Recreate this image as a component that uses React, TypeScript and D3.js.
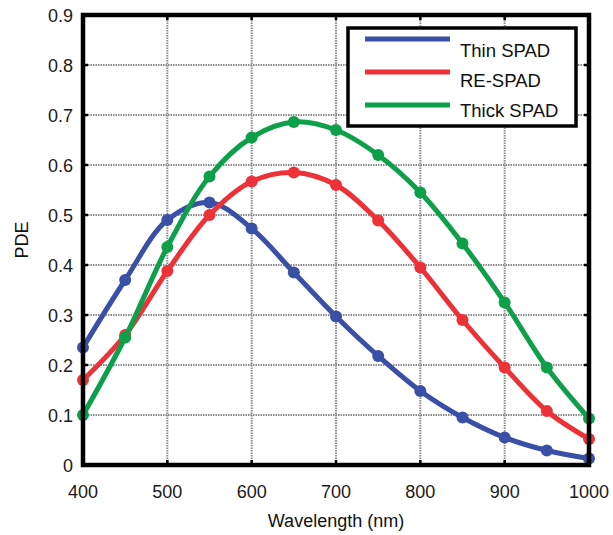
import React from "react";
import * as d3 from "d3";

const wavelengths = [400, 450, 500, 550, 600, 650, 700, 750, 800, 850, 900, 950, 1000];
const thinSpad = [0.235, 0.37, 0.49, 0.525, 0.473, 0.385, 0.297, 0.218, 0.148, 0.095, 0.055, 0.029, 0.013];
const reSpad = [0.17, 0.26, 0.388, 0.5, 0.567, 0.585, 0.56, 0.489, 0.395, 0.29, 0.195, 0.108, 0.052];
const thickSpad = [0.1, 0.255, 0.436, 0.577, 0.655, 0.686, 0.67, 0.62, 0.545, 0.443, 0.325, 0.195, 0.093];
const xTicks = [400, 500, 600, 700, 800, 900, 1000];
const yTicks = [0, 0.1, 0.2, 0.3, 0.4, 0.5, 0.6, 0.7, 0.8, 0.9];

const seriesList = [
  { name: "Thin SPAD", values: thinSpad, color: "#3a4fa6" },
  { name: "RE-SPAD", values: reSpad, color: "#ec3238" },
  { name: "Thick SPAD", values: thickSpad, color: "#0d9f4a" },
];

export default function App() {
  const W = 613, H = 535;
  const L = 83, R = 589, T = 15, B = 465;
  const x = d3.scaleLinear().domain([400, 1000]).range([L, R]);
  const y = d3.scaleLinear().domain([0, 0.9]).range([B, T]);
  const line = d3
    .line<number>()
    .x((_, i) => x(wavelengths[i]))
    .y((d) => y(d))
    .curve(d3.curveCatmullRom.alpha(0.5));
  const font = "'Liberation Sans', Arial, sans-serif";
  return (
    <svg width={W} height={H} style={{ position: "absolute", left: 0, top: 0, background: "#fff" }} fontFamily={font}>
      <defs>
        <clipPath id="plotclip">
          <rect x={L - 8} y={T - 8} width={R - L + 16} height={B - T + 16} />
        </clipPath>
      </defs>
      {/* grid */}
      {xTicks.slice(1, -1).map((t) => (
        <line key={"gx" + t} x1={x(t)} x2={x(t)} y1={T} y2={B} stroke="#8c8c8c" strokeWidth={2} strokeDasharray="1.5,1" />
      ))}
      {yTicks.slice(1, -1).map((t) => (
        <line key={"gy" + t} x1={L} x2={R} y1={y(t)} y2={y(t)} stroke="#8c8c8c" strokeWidth={2} strokeDasharray="1.5,1" />
      ))}
      {/* ticks */}
      {xTicks.map((t) => (
        <g key={"tx" + t}>
          <line x1={x(t)} x2={x(t)} y1={B} y2={B - 5} stroke="#000" strokeWidth={2.5} />
          <line x1={x(t)} x2={x(t)} y1={T} y2={T + 5} stroke="#000" strokeWidth={2.5} />
          <text x={x(t)} y={498} fontSize={18} textAnchor="middle" fill="#1a1a1a">{t}</text>
        </g>
      ))}
      {yTicks.map((t) => (
        <g key={"ty" + t}>
          <line x1={L} x2={L + 5} y1={y(t)} y2={y(t)} stroke="#000" strokeWidth={2.5} />
          <line x1={R} x2={R - 5} y1={y(t)} y2={y(t)} stroke="#000" strokeWidth={2.5} />
          <text x={73} y={y(t) + 6.5} fontSize={18} textAnchor="end" fill="#1a1a1a">{t === 0 ? "0" : t.toFixed(1)}</text>
        </g>
      ))}
      {/* series */}
      <g clipPath="url(#plotclip)">
        {seriesList.map((s) => (
          <g key={s.name}>
            <path d={line(s.values) || ""} fill="none" stroke={s.color} strokeWidth={5} strokeLinejoin="round" />
            {s.values.map((v, i) => (
              <circle key={i} cx={x(wavelengths[i])} cy={y(v)} r={6} fill={s.color} />
            ))}
          </g>
        ))}
      </g>
      {/* frame */}
      <rect x={L} y={T} width={R - L} height={B - T} fill="none" stroke="#000" strokeWidth={4.5} />
      {/* legend */}
      <rect x={348} y={28} width={228} height={98} fill="#fff" stroke="#000" strokeWidth={3.5} />
      {seriesList.map((s, i) => (
        <g key={"lg" + s.name}>
          <line x1={365} x2={450} y1={39 + i * 33} y2={39 + i * 33} stroke={s.color} strokeWidth={5} />
          <text x={460} y={57 + i * 30} fontSize={18.5} fill="#111">{s.name}</text>
        </g>
      ))}
      {/* axis labels */}
      <text x={(L + R) / 2} y={527} fontSize={18} textAnchor="middle" fill="#111">Wavelength (nm)</text>
      <text transform={`translate(28, ${(T + B) / 2}) rotate(-90)`} fontSize={18} textAnchor="middle" fill="#111">PDE</text>
    </svg>
  );
}
